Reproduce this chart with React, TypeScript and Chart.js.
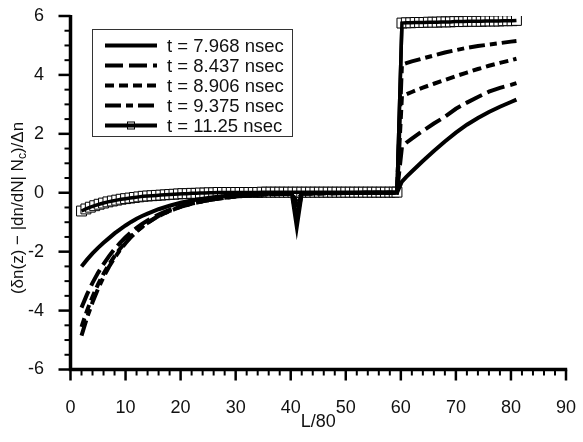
import React, { useEffect, useRef } from 'react';
import { Chart, registerables } from 'chart.js';

Chart.register(...registerables);

const FONT = "'Liberation Sans', Arial, Helvetica, sans-serif";

// Shared sampling positions (L/80) for the four line profiles
const X_LINE = [
  2, 3, 4, 5, 6, 7, 8, 9, 10, 11, 12, 13, 14, 15, 16, 17, 18, 19, 20,
  22, 24, 26, 28, 30, 33, 36, 40.2, 41.1, 42, 46, 50, 55, 59.3,
  60.2, 61, 62, 64, 66, 68, 70, 72, 74, 76, 78, 80, 81,
];

const T_7968 = [
  -2.5, -2.27, -2.06, -1.87, -1.7, -1.54, -1.38, -1.24, -1.11, -0.99, -0.88, -0.79, -0.71, -0.63, -0.56, -0.5, -0.44, -0.39, -0.34,
  -0.26, -0.2, -0.15, -0.11, -0.08, -0.05, -0.03, -0.02, -1.15, -0.02, -0.01, -0.01, 0, 0,
  0.38, 0.54, 0.72, 1.08, 1.42, 1.74, 2.04, 2.31, 2.54, 2.74, 2.92, 3.08, 3.16,
];

const T_8437 = [
  -3.9, -3.45, -3.06, -2.72, -2.42, -2.15, -1.91, -1.7, -1.51, -1.34, -1.19, -1.06, -0.94, -0.83, -0.74, -0.66, -0.58, -0.52, -0.46,
  -0.36, -0.28, -0.22, -0.17, -0.13, -0.08, -0.05, -0.03, -0.85, -0.03, -0.02, -0.01, 0, 0,
  1.55, 1.7, 1.84, 2.1, 2.35, 2.58, 2.85, 3.06, 3.25, 3.43, 3.56, 3.66, 3.72,
];

const T_8906 = [
  -4.55, -4.0, -3.53, -3.11, -2.75, -2.43, -2.15, -1.9, -1.68, -1.48, -1.31, -1.16, -1.02, -0.9, -0.8, -0.7, -0.62, -0.55, -0.48,
  -0.37, -0.29, -0.22, -0.17, -0.13, -0.08, -0.05, -0.03, -0.55, -0.03, -0.02, -0.01, 0, 0,
  3.28, 3.34, 3.42, 3.57, 3.7, 3.83, 3.96, 4.08, 4.2, 4.31, 4.41, 4.5, 4.55,
];

const T_9375 = [
  -4.85, -4.24, -3.72, -3.26, -2.86, -2.51, -2.21, -1.94, -1.71, -1.5, -1.32, -1.16, -1.02, -0.9, -0.79, -0.7, -0.62, -0.54, -0.48,
  -0.37, -0.29, -0.22, -0.17, -0.13, -0.08, -0.05, -0.03, -0.3, -0.03, -0.02, -0.01, 0, 0,
  4.35, 4.4, 4.46, 4.56, 4.66, 4.76, 4.84, 4.92, 4.98, 5.03, 5.08, 5.13, 5.15,
];

// t = 11.25 nsec is sampled on a finer grid (one marker per sample)
const grid = (start: number, step: number, n: number) =>
  Array.from({ length: n }, (_, k) => Math.round((start + step * k) * 10) / 10);

const X_1125_LEFT = [...grid(2, 0.8, 72), 59.3];
const X_1125_RIGHT = grid(60.2, 0.8, 27);

const T_1125_LEFT = [
  -0.62, -0.55, -0.49, -0.44, -0.39, -0.35, -0.31, -0.28, -0.25, -0.22,
  -0.2, -0.18, -0.16, -0.14, -0.12, -0.11, -0.1, -0.09, -0.08, -0.07,
  -0.06, -0.05, -0.04, -0.03, -0.03, -0.02, -0.02, -0.01, -0.01, 0, 0,
  0.01, 0.01, 0.01, 0.01, 0.01, 0.01, 0.01, 0.01, 0.01, 0.01,
  0.02, 0.02, 0.02, 0.02, 0.02, 0.02, 0.02, 0.02, 0.02, 0.02,
  0.02, 0.02, 0.02, 0.02, 0.02, 0.02, 0.02, 0.02, 0.02, 0.02,
  0.02, 0.02, 0.02, 0.02, 0.02, 0.02, 0.02, 0.02, 0.02, 0.02, 0.02,
  0.02,
];

const T_1125_RIGHT = [
  5.76, 5.77, 5.77, 5.78, 5.78, 5.78, 5.79, 5.79, 5.79, 5.8,
  5.8, 5.8, 5.81, 5.81, 5.81, 5.82, 5.82, 5.82, 5.82, 5.83,
  5.83, 5.83, 5.83, 5.84, 5.84, 5.84, 5.85,
];

const SERIES_LABELS = [
  't = 7.968 nsec',
  't = 8.437 nsec',
  't = 8.906 nsec',
  't = 9.375 nsec',
  't = 11.25 nsec',
];

const DASHES: number[][] = [[], [18, 6], [9, 5], [16, 5, 7, 5], []];

const pts = (xs: number[], ys: number[]) => xs.map((x, i) => ({ x, y: ys[i] }));

const squaresData = [...pts(X_1125_LEFT, T_1125_LEFT), ...pts(X_1125_RIGHT, T_1125_RIGHT)];

const decorPlugin = {
  id: 'decor',
  afterDraw(chart: any) {
    const { ctx, chartArea: a, scales } = chart;
    const sx = scales.x;
    const sy = scales.y;
    ctx.save();
    ctx.strokeStyle = '#000';
    ctx.lineCap = 'butt';

    // outward tick marks: major every 10 / 2, minor every 2 / 0.5
    for (let v = 0; v <= 90; v += 2) {
      const px = sx.getPixelForValue(v);
      const major = v % 10 === 0;
      ctx.lineWidth = major ? 2.5 : 2;
      ctx.beginPath();
      ctx.moveTo(px, a.bottom);
      ctx.lineTo(px, a.bottom + (major ? 11 : 6));
      ctx.stroke();
    }
    for (let k = 0; k <= 24; k++) {
      const py = sy.getPixelForValue(-6 + k * 0.5);
      const major = k % 4 === 0;
      ctx.lineWidth = major ? 2.5 : 2;
      ctx.beginPath();
      ctx.moveTo(a.left, py);
      ctx.lineTo(a.left - (major ? 12 : 6), py);
      ctx.stroke();
    }

    // axis lines
    ctx.lineWidth = 3.5;
    ctx.beginPath();
    ctx.moveTo(a.left, a.top - 1);
    ctx.lineTo(a.left, a.bottom);
    ctx.lineTo(a.right + 1.2, a.bottom);
    ctx.stroke();

    // axis titles
    ctx.fillStyle = '#111';
    ctx.font = `18px ${FONT}`;
    ctx.textAlign = 'center';
    ctx.textBaseline = 'middle';
    ctx.fillText('L/80', (a.left + a.right) / 2, 422);

    const parts = [
      { t: '(δn(z) − |dn/dN| N', sub: false },
      { t: 'c', sub: true },
      { t: ')/Δn', sub: false },
    ];
    const mainFont = `17px ${FONT}`;
    const subFont = `12px ${FONT}`;
    let total = 0;
    for (const p of parts) {
      ctx.font = p.sub ? subFont : mainFont;
      total += ctx.measureText(p.t).width;
    }
    ctx.translate(18, 208);
    ctx.rotate(-Math.PI / 2);
    ctx.textAlign = 'left';
    let cx = -total / 2;
    for (const p of parts) {
      ctx.font = p.sub ? subFont : mainFont;
      ctx.fillText(p.t, cx, p.sub ? 5 : 0);
      cx += ctx.measureText(p.t).width;
    }
    ctx.restore();

    // legend
    ctx.save();
    const lx = 92.5, ly = 29.5, lw = 200, lh = 107;
    ctx.strokeStyle = '#333';
    ctx.lineWidth = 1;
    ctx.strokeRect(lx, ly, lw, lh);
    ctx.font = `18.5px ${FONT}`;
    ctx.fillStyle = '#111';
    ctx.textAlign = 'left';
    ctx.textBaseline = 'middle';
    SERIES_LABELS.forEach((label, i) => {
      const y = 45.5 + i * 20;
      if (i === 4) {
        ctx.setLineDash([]);
        ctx.fillStyle = '#fff';
        ctx.strokeStyle = '#000';
        ctx.lineWidth = 1;
        ctx.fillRect(127.5, y - 3.5, 7, 7);
        ctx.strokeRect(127.5, y - 3.5, 7, 7);
      }
      ctx.strokeStyle = '#000';
      ctx.lineWidth = 4;
      ctx.setLineDash(DASHES[i]);
      ctx.beginPath();
      ctx.moveTo(105, y);
      ctx.lineTo(157, y);
      ctx.stroke();
      ctx.setLineDash([]);
      ctx.fillStyle = '#111';
      ctx.fillText(label, 167, y + 1);
    });
    ctx.restore();
  },
};

export default function App() {
  const ref = useRef<HTMLCanvasElement>(null);

  useEffect(() => {
    const lineSet = (ys: number[], i: number) => ({
      label: SERIES_LABELS[i],
      data: pts(X_LINE, ys),
      borderColor: '#000',
      borderWidth: 4,
      borderDash: DASHES[i],
      borderCapStyle: 'butt' as const,
      pointRadius: 0,
      tension: 0,
      fill: false,
      order: 5,
    });

    const chart = new Chart(ref.current as HTMLCanvasElement, {
      type: 'line',
      data: {
        datasets: [
          lineSet(T_7968, 0),
          lineSet(T_8437, 1),
          lineSet(T_8906, 2),
          lineSet(T_9375, 3),
          {
            label: SERIES_LABELS[4],
            data: squaresData,
            borderColor: '#000',
            borderWidth: 3.5,
            pointStyle: 'rect',
            pointRadius: 7,
            pointBackgroundColor: '#fff',
            pointBorderColor: '#000',
            pointBorderWidth: 1,
            tension: 0,
            fill: false,
            order: 10,
          },
          {
            // the t = 11.25 nsec profile line, drawn over its own markers
            label: '',
            data: squaresData,
            borderColor: '#000',
            borderWidth: 3.5,
            pointRadius: 0,
            tension: 0,
            fill: false,
            order: 0,
          },
        ],
      },
      options: {
        responsive: false,
        devicePixelRatio: 1,
        animation: false,
        events: [],
        layout: { padding: { top: 16, right: 17, left: 0, bottom: 0 } },
        plugins: {
          legend: { display: false },
          tooltip: { enabled: false },
        },
        scales: {
          x: {
            type: 'linear',
            min: 0,
            max: 90,
            afterFit: (s: any) => {
              s.height = 72.5;
              s.paddingLeft = 0;
              s.paddingRight = 0;
            },
            grid: { display: false },
            border: { display: false },
            ticks: {
              stepSize: 10,
              padding: 20,
              color: '#111',
              autoSkip: false,
              maxRotation: 0,
              font: { family: FONT, size: 18 },
            },
          },
          y: {
            type: 'linear',
            min: -6,
            max: 6,
            afterFit: (s: any) => {
              s.width = 70.5;
              s.paddingTop = 0;
              s.paddingBottom = 0;
            },
            grid: { display: false },
            border: { display: false },
            ticks: {
              stepSize: 2,
              padding: 18.5,
              color: '#111',
              autoSkip: false,
              font: { family: FONT, size: 18 },
            },
          },
        },
      },
      plugins: [decorPlugin],
    });

    return () => chart.destroy();
  }, []);

  return (
    <div style={{ position: 'absolute', left: 0, top: 0, width: 583, height: 442, background: '#fff' }}>
      <canvas ref={ref} width={583} height={442} style={{ display: 'block' }} />
    </div>
  );
}
